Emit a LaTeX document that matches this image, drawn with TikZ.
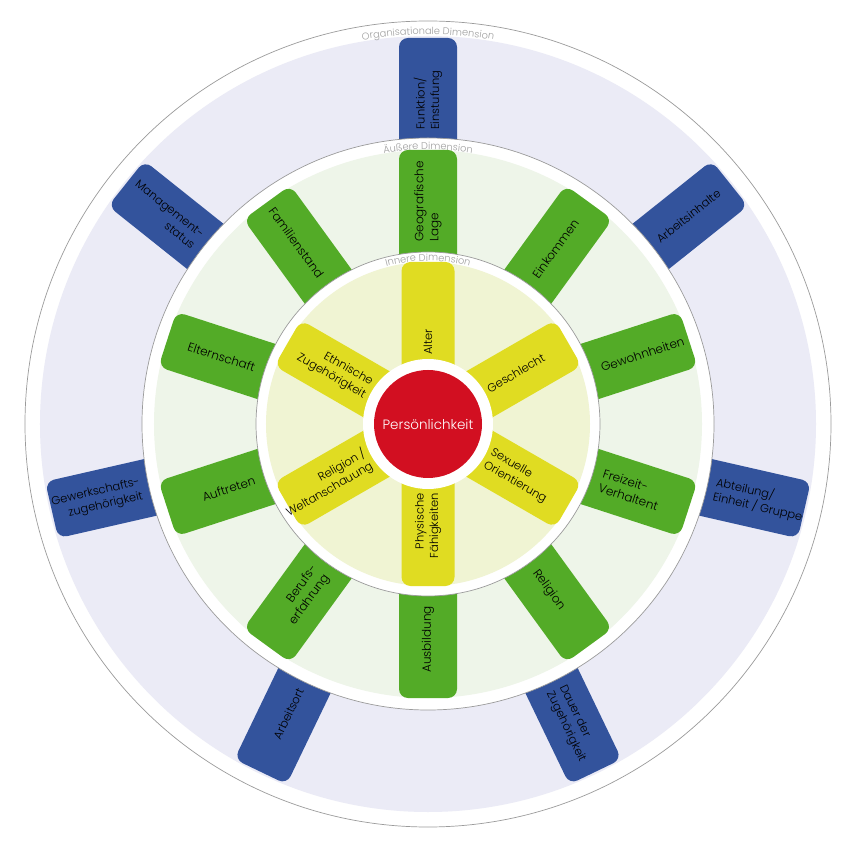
\documentclass[tikz,border=0pt]{standalone}
\usepackage{fontspec}
\setmainfont{Poppins Light}
\usetikzlibrary{decorations.text}

\definecolor{orgblue}{HTML}{33539C}
\definecolor{extgreen}{HTML}{53AB27}
\definecolor{inyellow}{HTML}{E0DC22}
\definecolor{corered}{HTML}{D20F21}
\definecolor{orgfill}{HTML}{EBEBF6}
\definecolor{extfill}{HTML}{EEF5E9}
\definecolor{infill}{HTML}{F0F4D3}
\definecolor{ringline}{HTML}{9B9B9B}
\definecolor{dimgray}{HTML}{A0A0A0}

\tikzset{
	spoke/.style={rounded corners=9pt},
	spoketext/.style={inner sep=0pt, font=\fontsize{12}{15}\selectfont},
	dimlabel/.style={decorate, decoration={text along path, text align=center, text color=dimgray}},
	ring/.style={draw=ringline, line width=0.7pt, fill=white}
}

\begin{document}
\begin{tikzpicture}[x=1pt,y=1pt]
		
		\useasboundingbox (-428,-426) rectangle (422,424);
		
		% organisationale Dimension
		\draw[ring] (0,0) circle (403pt);
		\fill[orgfill] (0,0) circle (388pt);
		\path[dimlabel, decoration={text={|\fontsize{9.8}{10}\selectfont|Organisationale Dimension}}] (150:389.5pt) arc[start angle=150, end angle=30, radius=389.5pt];
		
		\foreach \ang/\txt [count=\i] in {90/{Funktion/\\Einstufung}, 38.57/Arbeitsinhalte, -12.86/{Abteilung/\\Einheit / Gruppe}, -64.29/{Dauer der\\Zugehörigkeit}, 244.29/Arbeitsort, 192.86/{Gewerkschafts-\\zugehörigkeit}, 141.43/{Management-\\status}} {
			\fill[orgblue, spoke, rotate=\ang] (200pt,-29pt) rectangle (386pt,29pt);
			\ifdim \ang pt<90.5pt \def\side{west}\def\way{left}\else\def\side{east}\def\way{right}\fi
			\pgfmathsetmacro{\rot}{\ang<90.5 ? \ang : \ang-180}
			\node (org\i) [spoketext, font=\fontsize{11.5}{14.5}\selectfont, anchor=\side, align=\way, rotate=\rot] at (\ang:294pt) {\txt};
		}
		
		% aeussere Dimension
		\draw[ring] (0,0) circle (286pt);
		\fill[extfill] (0,0) circle (274pt);
		\path[dimlabel, decoration={text={|\fontsize{9.8}{10}\selectfont|Äußere Dimension}}] (140:274.5pt) arc[start angle=140, end angle=40, radius=274.5pt];
		
		\foreach \ang/\txt [count=\i] in {90/{Geografische\\Lage}, 54/Einkommen, 18/Gewohnheiten, -18/{Freizeit-\\Verhaltent}, -54/Religion, 270/Ausbildung, 234/{Berufs-\\erfahrung}, 198/Auftreten, 162/Elternschaft, 126/Familienstand} {
			\fill[extgreen, spoke, rotate=\ang] (100pt,-29pt) rectangle (274pt,29pt);
			\ifdim \ang pt<90.5pt \def\side{west}\def\way{left}\else\def\side{east}\def\way{right}\fi
			\pgfmathsetmacro{\rot}{\ang<90.5 ? \ang : \ang-180}
			\node (ext\i) [spoketext, anchor=\side, align=\way, rotate=\rot] at (\ang:182pt) {\txt};
		}
		
		% innere Dimension
		\draw[ring] (0,0) circle (172pt);
		\fill[infill] (0,0) circle (162pt);
		\path[dimlabel, decoration={text={|\fontsize{9.8}{10}\selectfont|Innere Dimension}}] (130:163pt) arc[start angle=130, end angle=50, radius=163pt];
		
		\foreach \ang/\txt [count=\i] in {90/Alter, 30/Geschlecht, -30/{Sexuelle\\Orientierung}, 270/{Physische\\Fähigkeiten}, 210/{Religion /\\Weltanschauung}, 150/{Ethnische\\Zugehörigkeit}} {
			\fill[inyellow, spoke, rotate=\ang] (30pt,-26.5pt) rectangle (162pt,26.5pt);
			\ifdim \ang pt<90.5pt \def\side{west}\def\way{left}\else\def\side{east}\def\way{right}\fi
			\pgfmathsetmacro{\rot}{\ang<90.5 ? \ang : \ang-180}
			\node (in\i) [spoketext, font=\fontsize{11.5}{14.5}\selectfont, anchor=\side, align=\way, rotate=\rot] at (\ang:69pt) {\txt};
		}
		
		% Kern
		\fill[white] (0,0) circle (65pt);
		\node (core) [circle, fill=corered, minimum size=108pt, inner sep=0pt, text=white, font=\fontsize{13.5}{16}\selectfont] at (0,0) {Persönlichkeit};
		
	\end{tikzpicture}
\end{document}
